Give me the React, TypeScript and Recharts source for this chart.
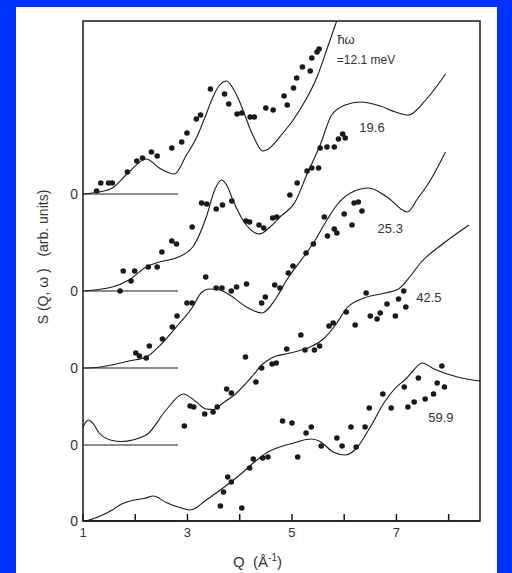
import React from 'react'
import {
  ComposedChart,
  Line,
  Scatter,
  XAxis,
  YAxis,
  ReferenceArea,
  ReferenceDot,
} from 'recharts'

type Pt = [number, number]

// energy transfers (meV) and the vertical offset of each curve's zero line
const energies = ['12.1', '19.6', '25.3', '42.5', '59.9']
const offsets = [32.7, 23.0, 15.3, 7.6, 0]

// calculated S(Q, w): [Q, S] above each zero line
const fit121: Pt[] = [
  [1.0, 0], [1.31, 0.2], [1.56, 0.6], [1.88, 2.2], [2.21, 3.5], [2.46, 2.6],
  [2.75, 2.0], [2.98, 3.9], [3.17, 5.6], [3.33, 7.6], [3.48, 9.6], [3.6, 10.8],
  [3.75, 11.3], [3.9, 10.3], [4.0, 9.2], [4.25, 5.9], [4.44, 4.3], [4.83, 6.1],
  [5.15, 8.4], [5.48, 11.7], [5.73, 15.4], [5.87, 17.5],
]
const fit196: Pt[] = [
  [1.0, 0], [1.56, 0.4], [1.88, 1.1], [2.21, 2.4], [2.46, 2.9], [2.78, 3.3],
  [3.1, 4.4], [3.36, 7.4], [3.52, 10.1], [3.65, 11.1], [3.77, 10.4], [3.87, 9.1],
  [4.06, 7.1], [4.38, 5.7], [4.58, 6.4], [4.77, 7.4], [5.06, 8.9], [5.29, 11.7],
  [5.54, 14.6], [5.76, 17.6], [6.02, 18.6], [6.31, 18.9], [6.69, 18.5],
  [6.98, 17.9], [7.23, 17.6], [7.56, 19.1], [7.94, 21.7],
]
const fit253: Pt[] = [
  [1.0, 0], [1.25, 0.05], [1.88, 0.7], [2.21, 1.1], [2.52, 2.5], [2.85, 4.5],
  [3.1, 6.1], [3.26, 7.5], [3.42, 7.9], [3.62, 7.8], [3.81, 7.3], [4.13, 6.1],
  [4.42, 5.5], [4.71, 7.1], [4.9, 8.8], [5.22, 11.1], [5.41, 12.5], [5.67, 14.8],
  [5.86, 16.3], [6.12, 17.5], [6.47, 18.0], [6.82, 17.1], [7.21, 15.6],
  [7.4, 16.9], [7.63, 18.6], [7.94, 21.6],
]
const fit425: Pt[] = [
  [1.0, 1.8], [1.1, 2.5], [1.2, 2.1], [1.31, 1.2], [1.56, 0.45], [1.73, 0.35],
  [2.21, 1.0], [2.59, 3.5], [2.92, 5.1], [3.17, 4.3], [3.35, 3.6], [3.49, 3.55],
  [3.68, 4.2], [3.94, 5.2], [4.26, 7.0], [4.42, 8.0], [4.61, 8.7], [4.96, 9.2],
  [5.35, 9.8], [5.6, 10.6], [5.86, 12.2], [6.05, 13.7], [6.38, 14.7],
  [6.79, 15.2], [7.04, 15.6], [7.27, 16.9], [7.46, 18.2], [7.91, 20.2],
  [8.39, 22.0],
]
const fit599: Pt[] = [
  [1.05, 0], [1.31, 0.45], [1.56, 1.1], [1.74, 1.7], [1.98, 2.1], [2.17, 2.25],
  [2.35, 2.5], [2.59, 1.85], [2.85, 1.35], [3.05, 1.1], [3.36, 2.1], [3.68, 3.3],
  [4.0, 4.6], [4.26, 5.8], [4.51, 6.8], [4.77, 7.4], [4.96, 7.7], [5.38, 8.2],
  [5.54, 7.95], [5.79, 6.9], [6.02, 6.6], [6.24, 7.3], [6.5, 9.4], [6.76, 11.8],
  [6.98, 13.3], [7.2, 14.3], [7.33, 15.1], [7.49, 15.8], [7.72, 15.2],
  [8.17, 14.4], [8.6, 14.0],
]

// measured points: [Q, S]
const dots121: Pt[] = [
  [1.26, 0.3], [1.34, 1.1], [1.49, 1.1], [1.56, 1.1], [1.85, 2.2], [2.03, 3.3],
  [2.14, 3.6], [2.31, 4.2], [2.42, 3.8], [2.7, 4.6], [2.89, 5.2], [2.99, 6.1],
  [3.17, 7.5], [3.25, 7.9], [3.44, 10.5], [3.71, 10.0], [3.79, 9.0], [3.95, 8.0],
  [4.04, 8.1], [4.2, 7.7], [4.28, 7.7], [4.5, 8.6], [4.64, 8.4], [4.85, 9.8],
  [4.91, 8.9], [5.03, 10.6], [5.09, 11.6], [5.2, 12.7], [5.35, 12.3],
  [5.38, 13.6], [5.48, 14.2], [5.52, 14.5],
]
const dots196: Pt[] = [
  [1.71, 0], [1.77, 2.0], [1.92, 1.0], [1.99, 2.0], [2.25, 2.4], [2.42, 2.4],
  [2.51, 3.9], [2.7, 5.0], [2.79, 4.7], [3.09, 6.4], [3.27, 8.8], [3.37, 8.7],
  [3.55, 8.2], [3.67, 8.6], [3.85, 9.0], [4.12, 7.0], [4.19, 6.9], [4.37, 6.6],
  [4.46, 6.3], [4.63, 7.3], [4.71, 7.4], [4.96, 9.6], [5.1, 10.8], [5.29, 12.0],
  [5.38, 12.3], [5.51, 12.3], [5.54, 14.3], [5.67, 14.4], [5.81, 14.4],
  [5.89, 15.2], [5.97, 15.7], [6.02, 15.3],
]
const dots253: Pt[] = [
  [2.01, 1.5], [2.08, 1.2], [2.21, 1.0], [2.27, 2.2], [2.52, 2.9], [2.71, 4.1],
  [2.8, 5.2], [2.99, 6.5], [3.09, 6.5], [3.35, 9.1], [3.55, 8.0], [3.66, 8.0],
  [3.84, 7.7], [3.94, 8.1], [4.13, 8.4], [4.42, 6.5], [4.49, 7.1], [4.67, 8.3],
  [4.77, 8.0], [4.93, 9.5], [5.02, 10.2], [5.27, 11.5], [5.41, 12.4],
  [5.62, 15.1], [5.68, 13.2], [5.81, 13.9], [5.86, 13.5], [6.0, 15.4],
  [6.15, 14.3], [6.19, 16.5], [6.27, 16.6], [6.34, 15.7],
]
const dots425: Pt[] = [
  [2.94, 1.9], [3.05, 3.9], [3.12, 3.8], [3.33, 3.1], [3.49, 3.3], [3.57, 3.8],
  [3.75, 5.6], [3.84, 5.2], [4.11, 8.8], [4.31, 6.3], [4.42, 7.7], [4.62, 8.1],
  [4.7, 8.2], [4.9, 9.6], [5.17, 11.0], [5.25, 9.5], [5.43, 9.5], [5.53, 9.9],
  [5.71, 11.9], [5.79, 12.2], [6.04, 13.3], [6.21, 12.0], [6.42, 15.2],
  [6.5, 12.9], [6.63, 12.6], [6.69, 13.2], [6.82, 14.1], [6.98, 12.9],
  [7.04, 14.6], [7.14, 15.4], [7.18, 13.8],
]
const dots599: Pt[] = [
  [3.63, 1.5], [3.69, 2.9], [3.77, 4.4], [3.84, 3.9], [4.04, 1.3], [4.19, 5.3],
  [4.26, 6.2], [4.44, 6.3], [4.54, 6.4], [4.82, 10.0], [5.0, 9.8], [5.11, 6.4],
  [5.27, 8.8], [5.37, 9.4], [5.56, 7.5], [5.86, 8.3], [5.96, 7.5], [6.13, 9.4],
  [6.23, 7.4], [6.4, 9.4], [6.48, 11.3], [6.74, 12.7], [6.9, 11.3], [7.15, 13.4],
  [7.22, 11.4], [7.34, 11.9], [7.42, 14.3], [7.55, 12.2], [7.71, 12.7],
  [7.78, 13.8], [7.87, 15.5], [7.92, 13.4],
]

const fits = [fit121, fit196, fit253, fit425, fit599]
const dots = [dots121, dots196, dots253, dots425, dots599]

const xTicks = [1, 2, 3, 4, 5, 6, 7, 8]
const xTickLabels = ['1', '', '3', '', '5', '', '7', '']
const zeroLineEnd = 2.82

// where the energy labels sit, in chart units
const labelSpots = [
  { q: 5.86, v: 46.1, text: '=12.1 meV', size: 12 },
  { q: 6.29, v: 39.4, text: energies[1], size: 13 },
  { q: 6.64, v: 29.3, text: energies[2], size: 13 },
  { q: 7.38, v: 22.4, text: energies[3], size: 13 },
  { q: 7.61, v: 10.4, text: energies[4], size: 13 },
]

const ink = '#1a1a1a'
const font = '"Liberation Sans", Arial, sans-serif'

const toRows = (pts: Pt[], off: number) =>
  pts.map(([q, s]) => ({ q, v: s + off }))

const XTick = (props: any) => {
  const { x, y, payload } = props
  const i = xTicks.indexOf(payload.value)
  return (
    <g>
      <line x1={x} x2={x} y1={y - 7} y2={y - 14} stroke={ink} strokeWidth={1.5} />
      {xTickLabels[i] ? (
        <text x={x} y={y} dy='0.71em' textAnchor='middle' fontSize={13} fill='#333' fontFamily={font}>
          {xTickLabels[i]}
        </text>
      ) : null}
    </g>
  )
}

const yTitle = (props: any) => {
  const vb = props.viewBox
  const x = vb.x - 20
  const y = vb.y + vb.height / 2 - 14
  return (
    <text
      x={x}
      y={y}
      transform={`rotate(-90 ${x} ${y})`}
      textAnchor='middle'
      dominantBaseline='central'
      fontSize={14}
      fill='#333'
      fontFamily={font}
      style={{ whiteSpace: 'pre' }}
    >
      {'S (Q, ω )   (arb. units)'}
    </text>
  )
}

const xTitle = (props: any) => {
  const vb = props.viewBox
  const x = vb.x + vb.width / 2 - 24
  const y = vb.y + 46
  return (
    <text x={x} y={y} textAnchor='middle' fontSize={15} fill='#333' fontFamily={font} style={{ whiteSpace: 'pre' }}>
      {'Q  (Å'}
      <tspan dy={-6} fontSize={10}>-1</tspan>
      <tspan dy={6}>)</tspan>
    </text>
  )
}

const App: React.FC = () => {
  return (
    <div
      style={{
        position: 'fixed',
        left: 0,
        top: 0,
        width: 512,
        height: 573,
        background: '#0033ff',
      }}
    >
      <div
        style={{
          position: 'absolute',
          left: 16,
          top: 7,
          width: 481,
          height: 566,
          background: '#ffffff',
        }}
      />
      <div style={{ position: 'absolute', left: 0, top: 0 }}>
        <ComposedChart
          width={512}
          height={573}
          margin={{ top: 21, right: 32, left: 63, bottom: 22 }}
        >
          <XAxis
            type='number'
            dataKey='q'
            domain={[1, 8.6]}
            ticks={xTicks}
            allowDataOverflow
            height={30}
            tickSize={0}
            tickMargin={7}
            tickLine={false}
            axisLine={{ stroke: ink, strokeWidth: 1.5 }}
            tick={<XTick />}
            label={{ content: xTitle }}
          />
          <YAxis
            type='number'
            dataKey='v'
            domain={[0, 50]}
            ticks={offsets}
            allowDataOverflow
            width={20}
            tickSize={0}
            tickMargin={5}
            tickLine={false}
            axisLine={false}
            tickFormatter={() => '0'}
            tick={{ fontSize: 14, fill: '#333', fontFamily: font }}
            label={{ content: yTitle }}
          />
          <ReferenceArea
            x1={1}
            x2={8.6}
            y1={0}
            y2={50}
            fill='none'
            stroke={ink}
            strokeWidth={1.5}
            ifOverflow='visible'
          />
          {offsets.map((off, i) => (
            <Line
              key={`zero-${i}`}
              data={[{ q: 1, v: off }, { q: zeroLineEnd, v: off }]}
              dataKey='v'
              type='linear'
              stroke={ink}
              strokeWidth={1}
              dot={false}
              isAnimationActive={false}
            />
          ))}
          {fits.map((pts, i) => (
            <Line
              key={`fit-${energies[i]}`}
              data={toRows(pts, offsets[i])}
              dataKey='v'
              type='monotone'
              stroke={ink}
              strokeWidth={1.1}
              dot={false}
              isAnimationActive={false}
            />
          ))}
          {dots.map((pts, i) => (
            <Scatter
              key={`obs-${energies[i]}`}
              data={toRows(pts, offsets[i])}
              dataKey='v'
              isAnimationActive={false}
              shape={(p: any) => <circle cx={p.cx} cy={p.cy} r={2.8} fill={ink} />}
            />
          ))}
          <ReferenceDot
            x={5.87}
            y={48.2}
            r={0}
            ifOverflow='visible'
            shape={(p: any) => (
              <text x={p.cx} y={p.cy} dominantBaseline='central' fontSize={13} fill='#333' fontFamily={font}>
                ħω
              </text>
            )}
          />
          {labelSpots.map((s) => (
            <ReferenceDot
              key={s.text}
              x={s.q}
              y={s.v}
              r={0}
              ifOverflow='visible'
              shape={(p: any) => (
                <text x={p.cx} y={p.cy} dominantBaseline='central' fontSize={s.size} fill='#333' fontFamily={font}>
                  {s.text}
                </text>
              )}
            />
          ))}
        </ComposedChart>
      </div>
    </div>
  )
}

export default App
